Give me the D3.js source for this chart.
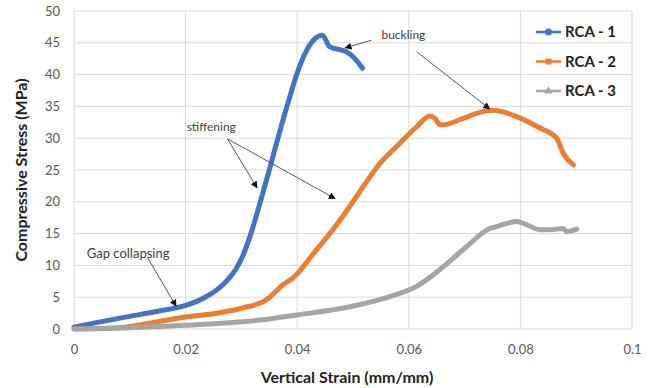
<!DOCTYPE html>
<html>
<head>
<meta charset="utf-8">
<script src="https://cdn.jsdelivr.net/npm/d3@7"></script>
<style>
  body { margin: 0; background: #fff; }
  svg { font-family: "Lato", "Open Sans", sans-serif; }
</style>
</head>
<body>
<div id="chart"></div>
<script>
// Stress-strain curves, values

const xTicks = [0, 0.02, 0.04, 0.06, 0.08, 0.1];
const yTicks = [0, 5, 10, 15, 20, 25, 30, 35, 40, 45, 50];

const strain1 = [0, 0.004, 0.0094, 0.015, 0.02, 0.0235, 0.0262, 0.0277, 0.029, 0.0302, 0.0317, 0.0334, 0.035, 0.0367, 0.0385, 0.0403, 0.0422, 0.0445, 0.0458, 0.0488, 0.050, 0.0517];
const stress1 = [0.3, 1.0, 1.9, 2.8, 3.7, 5.0, 6.6, 7.9, 9.4, 11.4, 15.0, 20, 25, 30.5, 36, 41, 44.6, 46.2, 44.4, 43.6, 42.8, 41];

const strain2 = [0, 0.008, 0.014, 0.02, 0.025, 0.0302, 0.0345, 0.0375, 0.0392, 0.0434, 0.047, 0.0506, 0.0548, 0.0584, 0.0614, 0.0638, 0.0647, 0.0656, 0.0673, 0.0691, 0.0739, 0.0751, 0.0793, 0.0835, 0.0865, 0.0877, 0.0895];
const stress2 = [0, 0.2, 1.0, 1.9, 2.4, 3.3, 4.6, 7.0, 8.0, 12.4, 16.3, 20.8, 26, 29.2, 31.8, 33.5, 33.1, 32.1, 32.3, 32.9, 34.3, 34.4, 33.4, 31.6, 30, 27.6, 25.8];

const strain3 = [0, 0.01, 0.02, 0.0333, 0.0399, 0.0494, 0.0566, 0.0614, 0.0662, 0.0703, 0.0745, 0.0757, 0.0793, 0.0811, 0.0835, 0.0853, 0.0877, 0.0883, 0.0901];
const stress3 = [0, 0.2, 0.6, 1.4, 2.2, 3.5, 5.1, 6.7, 9.8, 12.9, 15.8, 16.1, 16.9, 16.4, 15.6, 15.6, 15.8, 15.3, 15.7];

const seriesNames = ["RCA - 1", "RCA - 2", "RCA - 3"];
const seriesColors = ["#4472C4", "#ED7D31", "#A5A5A5"];

// annotation labels and arrows, in data units
const notes = [
    { text: "buckling", x: 0.0551, y: 46.2, anchor: "start" },
    { text: "stiffening", x: 0.0246, y: 31.8, anchor: "middle" },
    { text: "Gap collapsing", x: 0.0097, y: 11.9, anchor: "middle" }
];
const arrows = [
    [0.0533, 45.4, 0.0486, 44.2],
    [0.0614, 43.6, 0.0745, 34.6],
    [0.0275, 29.9, 0.0328, 22.2],
    [0.0275, 29.9, 0.0468, 20.5],
    [0.0132, 11.2, 0.0183, 3.6]
];

const W = 654, H = 388;
const margin = { top: 11, right: 22, bottom: 59, left: 74 };
const width = W - margin.left - margin.right;
const height = H - margin.top - margin.bottom;

const svg = d3.select("#chart")
    .append("svg")
    .attr("width", W)
    .attr("height", H);

svg.append("defs").append("marker")
    .attr("id", "arrowhead")
    .attr("viewBox", "0 0 10 10")
    .attr("refX", 9)
    .attr("refY", 5)
    .attr("markerWidth", 7)
    .attr("markerHeight", 7)
    .attr("markerUnits", "userSpaceOnUse")
    .attr("orient", "auto")
    .append("path")
    .attr("d", "M0,0 L10,5 L0,10 Z")
    .attr("fill", "#111");

const g = svg.append("g")
    .attr("transform", `translate(${margin.left},${margin.top})`);

const x = d3.scaleLinear().domain([0, 0.1]).range([0, width]);
const y = d3.scaleLinear().domain([0, 50]).range([height, 0]);

// Grid
g.append("g").selectAll("line")
    .data(yTicks)
    .enter().append("line")
    .attr("x1", 0).attr("x2", width)
    .attr("y1", d => y(d)).attr("y2", d => y(d))
    .attr("stroke", "#d9d9d9").attr("stroke-width", 1);

g.append("g").selectAll("line")
    .data(xTicks)
    .enter().append("line")
    .attr("y1", 0).attr("y2", height)
    .attr("x1", d => x(d)).attr("x2", d => x(d))
    .attr("stroke", "#d9d9d9").attr("stroke-width", 1);

// Axes (labels only, Excel style)
const xAxis = g.append("g")
    .attr("transform", `translate(0,${height})`)
    .call(d3.axisBottom(x).tickValues(xTicks).tickSize(0).tickPadding(16)
        .tickFormat(d => d === 0 ? "0" : String(+d.toFixed(2))));
const yAxis = g.append("g")
    .call(d3.axisLeft(y).tickValues(yTicks).tickSize(0).tickPadding(14));

[xAxis, yAxis].forEach(a => {
    a.select(".domain").remove();
    a.selectAll("text")
        .attr("fill", "#595959")
        .style("font-size", "13px")
        .style("font-family", "Lato, sans-serif");
});

// Axis titles
svg.append("text")
    .attr("x", margin.left + width / 2 - 6)
    .attr("y", 383)
    .attr("text-anchor", "middle")
    .style("font-size", "16px")
    .style("font-weight", "bold")
    .attr("fill", "#222")
    .text("Vertical Strain (mm/mm)");

svg.append("text")
    .attr("transform", "rotate(-90)")
    .attr("x", -(margin.top + height / 2))
    .attr("y", 27)
    .attr("text-anchor", "middle")
    .style("font-size", "16px")
    .style("font-weight", "bold")
    .attr("fill", "#222")
    .text("Compressive Stress (MPa)");

// Curves
const line = d3.line()
    .x(d => x(d[0]))
    .y(d => y(d[1]))
    .curve(d3.curveMonotoneX);

const series = [
    d3.zip(strain1, stress1),
    d3.zip(strain2, stress2),
    d3.zip(strain3, stress3)
];

series.forEach((s, i) => {
    g.append("path")
        .datum(s)
        .attr("fill", "none")
        .attr("stroke", seriesColors[i])
        .attr("stroke-width", 5)
        .attr("stroke-linejoin", "round")
        .attr("stroke-linecap", "round")
        .attr("d", line);
});

// Annotations
g.append("g").selectAll("line")
    .data(arrows)
    .enter().append("line")
    .attr("x1", d => x(d[0])).attr("y1", d => y(d[1]))
    .attr("x2", d => x(d[2])).attr("y2", d => y(d[3]))
    .attr("stroke", "#555")
    .attr("stroke-width", 1)
    .attr("marker-end", "url(#arrowhead)");

g.append("g").selectAll("text")
    .data(notes)
    .enter().append("text")
    .attr("x", d => x(d.x))
    .attr("y", d => y(d.y))
    .attr("dy", "0.35em")
    .attr("text-anchor", d => d.anchor)
    .attr("fill", "#404040")
    .style("font-size", d => d.text === "Gap collapsing" ? "13px" : "12px")
    .text(d => d.text);

// Legend
const legend = svg.append("g")
    .attr("transform", "translate(536,32)");

seriesNames.forEach((name, i) => {
    const row = legend.append("g").attr("transform", `translate(0,${i * 29.5})`);
    row.append("line")
        .attr("x1", 0).attr("x2", 25)
        .attr("stroke", seriesColors[i])
        .attr("stroke-width", 2.5);
    if (i === 0) {
        row.append("circle").attr("cx", 12.5).attr("r", 3.5).attr("fill", seriesColors[i]);
    } else if (i === 1) {
        row.append("rect").attr("x", 9.5).attr("y", -3).attr("width", 6).attr("height", 6).attr("fill", seriesColors[i]);
    } else {
        row.append("path")
            .attr("transform", "translate(12.5,0)")
            .attr("d", d3.symbol(d3.symbolTriangle, 30))
            .attr("fill", seriesColors[i]);
    }
    row.append("text")
        .attr("x", 29)
        .attr("dy", "0.35em")
        .style("font-size", "15px")
        .style("font-weight", "bold")
        .attr("fill", "#222")
        .text(name);
});
</script>
</body>
</html>
